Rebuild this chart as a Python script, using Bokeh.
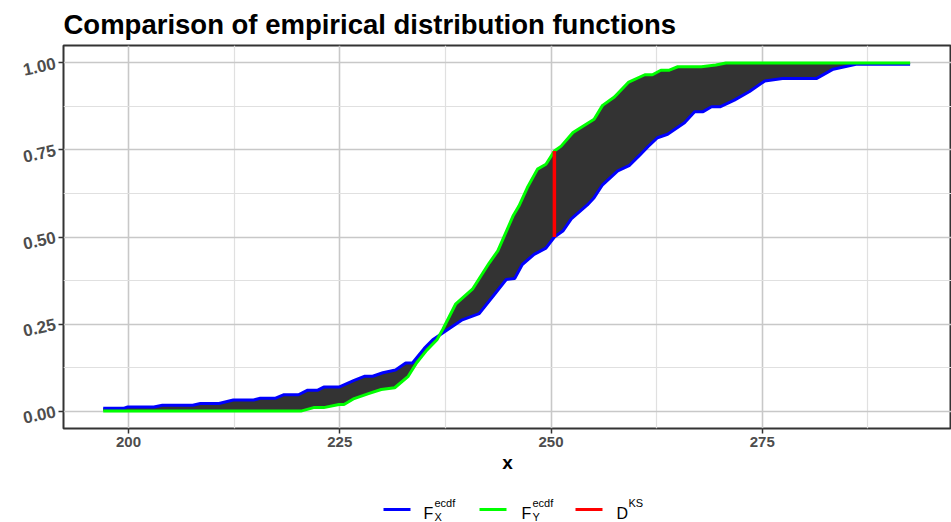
from bokeh.plotting import figure
from bokeh.models import Range1d, FixedTicker, NumeralTickFormatter
from bokeh.layouts import column
from bokeh.embed import file_html
from bokeh.resources import INLINE
from bokeh.core.properties import value

# ECDF of X (blue)
fx_x = [197.0, 199.4, 199.9, 203.0, 204.0, 207.6, 208.5, 210.7, 212.4, 214.8,
        215.6, 217.4, 218.4, 220.1, 221.2, 222.4, 223.1, 224.9, 226.7, 227.9,
        228.9, 230.1, 231.6, 232.8, 233.6, 235.0, 236.0, 237.4, 239.5, 241.5,
        243.3, 244.7, 245.7, 246.6, 248.0, 249.4, 250.4, 251.4, 252.4, 254.3,
        255.1, 256.1, 257.9, 259.3, 260.5, 261.5, 262.6, 263.8, 265.8, 267.0,
        268.0, 269.0, 270.0, 271.7, 273.5, 275.3, 277.4, 281.4, 283.4, 286.1,
        292.5]
fx_y = [0.008, 0.008, 0.012, 0.012, 0.017, 0.017, 0.022, 0.022, 0.032, 0.032,
        0.037, 0.037, 0.047, 0.047, 0.060, 0.060, 0.069, 0.069, 0.088, 0.100,
        0.100, 0.110, 0.118, 0.138, 0.138, 0.180, 0.205, 0.228, 0.262, 0.280,
        0.335, 0.378, 0.381, 0.421, 0.450, 0.468, 0.500, 0.517, 0.552, 0.592,
        0.613, 0.650, 0.690, 0.706, 0.735, 0.760, 0.785, 0.795, 0.828, 0.860,
        0.860, 0.874, 0.874, 0.893, 0.918, 0.948, 0.955, 0.955, 0.982, 0.996,
        0.996]

# ECDF of Y (green)
fy_x = [197.0, 220.4, 221.9, 223.1, 224.9, 225.5, 226.7, 228.4, 229.9, 231.5,
        233.1, 234.1, 235.3, 236.5, 237.2, 238.7, 240.7, 242.7, 243.7, 245.5,
        246.2, 247.2, 248.4, 249.4, 250.4, 251.2, 252.6, 255.1, 256.1, 257.5,
        259.2, 261.1, 262.0, 263.0, 264.0, 265.0, 267.8, 269.5, 270.7, 292.5]
fy_y = [0.000, 0.000, 0.010, 0.010, 0.019, 0.019, 0.036, 0.050, 0.062, 0.067,
        0.100, 0.139, 0.175, 0.205, 0.235, 0.307, 0.350, 0.426, 0.460, 0.560,
        0.589, 0.642, 0.695, 0.709, 0.747, 0.761, 0.800, 0.838, 0.878, 0.902,
        0.945, 0.966, 0.966, 0.979, 0.979, 0.989, 0.989, 0.994, 1.000, 1.000]

# Kolmogorov-Smirnov distance
ks_x = [250.4]
ks_lo = [0.500]
ks_hi = [0.747]

x_ticks = [200, 225, 250, 275]
x_minor = [212.5, 237.5, 262.5, 287.5]
y_ticks = [0.0, 0.25, 0.5, 0.75, 1.0]
y_minor = [0.125, 0.375, 0.625, 0.875]

title_text = "Comparison of empirical distribution functions"
x_label = "x"
legend_colors = ["#0000ff", "#00ff00", "#ff0000"]
legend_main = ["F", "F", "D"]
legend_sub = ["X", "Y"]
legend_sup = ["ecdf", "ecdf", "KS"]

FONT = value("Liberation Sans")

p = figure(width=951, height=486,
           x_range=Range1d(192.3, 297.4), y_range=Range1d(-0.05, 1.05),
           output_backend="svg", toolbar_location=None,
           min_border_left=63, min_border_right=0, min_border_top=45,
           min_border_bottom=58, background_fill_color="white",
           border_fill_color="white")

p.title.text = title_text
p.title.text_font = "Liberation Sans"
p.title.text_font_size = "27.5px"
p.title.text_font_style = "bold"
p.title.text_color = "black"
p.title.standoff = 12

p.outline_line_color = "#333333"
p.outline_line_width = 2

p.xaxis.ticker = FixedTicker(ticks=x_ticks, minor_ticks=x_minor)
p.yaxis.ticker = FixedTicker(ticks=y_ticks, minor_ticks=y_minor)
p.yaxis.formatter = NumeralTickFormatter(format="0.00")

for ax in (p.xaxis[0], p.yaxis[0]):
    ax.axis_line_color = None
    ax.major_tick_line_color = "#333333"
    ax.major_tick_line_width = 1.5
    ax.major_tick_out = 5
    ax.major_tick_in = 0
    ax.minor_tick_line_color = None
    ax.major_label_text_font = "Liberation Sans"
    ax.major_label_text_font_style = "bold"
    ax.major_label_text_color = "#4d4d4d"
    ax.major_label_standoff = 3

p.xaxis.major_label_text_font_size = "15px"
p.yaxis.major_label_text_font_size = "17px"
p.yaxis.major_label_orientation = 0.21
p.xaxis.axis_label = x_label
p.xaxis.axis_label_text_font = "Liberation Sans"
p.xaxis.axis_label_text_font_style = "bold"
p.xaxis.axis_label_text_font_size = "19px"
p.xaxis.axis_label_text_color = "black"
p.xaxis.axis_label_standoff = 2

for g in (p.xgrid[0], p.ygrid[0]):
    g.grid_line_color = "#c8c8c8"
    g.grid_line_width = 1.6
    g.minor_grid_line_color = "#e0e0e0"
    g.minor_grid_line_width = 1.2

# ribbon between the two ECDFs
p.patch(x=fx_x + fy_x[::-1], y=fx_y + fy_y[::-1],
        fill_color="#333333", line_color=None)
p.line(fx_x, fx_y, line_color=legend_colors[0], line_width=3)
p.line(fy_x, fy_y, line_color=legend_colors[1], line_width=3)
p.segment(x0=ks_x, y0=ks_lo, x1=ks_x, y1=ks_hi,
          line_color=legend_colors[2], line_width=3.5)

# legend strip below the plot (frame aligned with main frame: 63..951 px)
leg = figure(width=951, height=36, x_range=Range1d(63, 951), y_range=Range1d(0, 36),
             output_backend="svg", toolbar_location=None,
             x_axis_type=None, y_axis_type=None,
             min_border_left=63, min_border_right=0, min_border_top=0,
             min_border_bottom=0,
             outline_line_color=None, background_fill_color="white",
             border_fill_color="white")
leg.grid.visible = False

key_x0 = [383, 479, 575]
key_x1 = [410, 506, 602]
main_x = [423, 521, 616]
script_x = [434, 532, 628]
leg.segment(x0=key_x0, y0=[13] * 3, x1=key_x1, y1=[13] * 3,
            line_color=legend_colors, line_width=3)
leg.text(x=main_x, y=[9] * 3, text=legend_main, text_font=FONT,
         text_font_size="16px", text_baseline="alphabetic", text_color="black")
leg.text(x=script_x, y=[20] * 3, text=legend_sup, text_font=FONT,
         text_font_size="11px", text_baseline="alphabetic", text_color="black")
leg.text(x=script_x[:2], y=[5.5] * 2, text=legend_sub, text_font=FONT,
         text_font_size="11px", text_baseline="alphabetic", text_color="black")

layout = column(p, leg, spacing=0)
open("out.html", "w").write(file_html(layout, INLINE))
